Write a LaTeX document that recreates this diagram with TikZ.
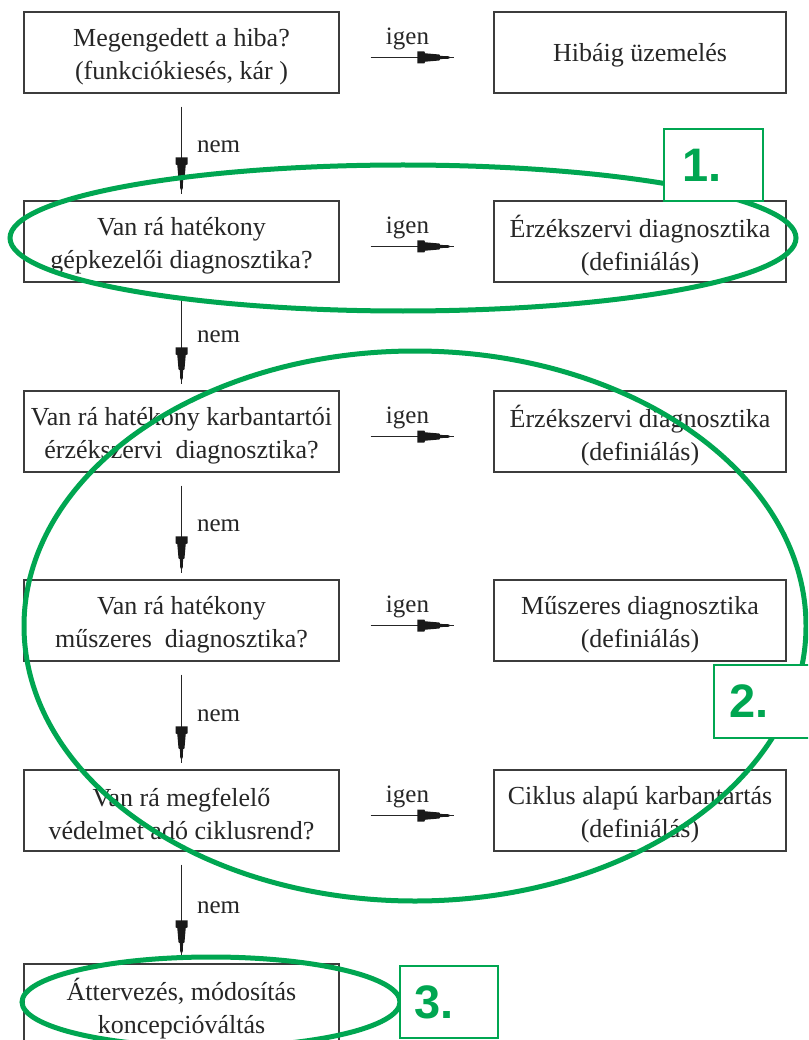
\documentclass[tikz,border=0pt]{standalone}
\usepackage{fontspec}
\setmainfont{Liberation Serif}
\newfontfamily\numfont{Liberation Sans}
\usetikzlibrary{decorations.markings}
\definecolor{ovalgreen}{RGB}{0,166,81}
\definecolor{boxgray}{RGB}{60,60,60}
\tikzset{
  qbox/.style={draw=boxgray, line width=1.3pt, minimum width=315pt, minimum height=81pt,
    inner sep=0pt},
  abox/.style={qbox, minimum width=292pt},
  boxtext/.style={align=center, inner sep=0pt, font=\fontsize{26}{33}\selectfont, text=black!85},
  flow/.style={line width=1pt, draw=black!85, postaction={decorate},
    decoration={markings, mark=at position 0.999 with {
      \fill[black!90] (-37pt,6pt) -- (-30pt,6pt) -- (-29pt,4.2pt) -- (-15pt,3pt)
        -- (-14pt,1.6pt) -- (-5pt,1.2pt) -- (-5pt,-1.2pt) -- (-14pt,-1.6pt)
        -- (-15pt,-3pt) -- (-29pt,-4.2pt) -- (-30pt,-6pt) -- (-37pt,-6pt) -- cycle;}}},
  lbl/.style={font=\fontsize{25}{30}\selectfont, text=black!85, inner sep=0pt},
  oval/.style={draw=ovalgreen, line width=5pt},
  numbox/.style={draw=ovalgreen, line width=1.5pt, fill=white, inner sep=0pt},
  numtext/.style={font=\numfont\bfseries\fontsize{47}{47}\selectfont, text=ovalgreen,
    anchor=west, inner sep=0pt},
}
\begin{document}
\begin{tikzpicture}[x=1pt, y=-1pt]
\clip (0,0) rectangle (808,1040);
\fill[white] (0,0) rectangle (808,1040);

% question boxes
\node[qbox] (L1) at (181.5,52.5) {};
\node[qbox] (L2) at (181.5,241.5) {};
\node[qbox] (L3) at (181.5,431.5) {};
\node[qbox] (L4) at (181.5,620.5) {};
\node[qbox] (L5) at (181.5,810.5) {};
\node[qbox] (L6) at (181.5,1004.5) {};
\node[boxtext] (L1t) at ([yshift=-4pt]L1.center) {Megengedett a hiba?\\(funkciókiesés, kár )};
\node[boxtext] (L2t) at ([yshift=-4pt]L2.center) {Van rá hatékony\\gépkezelői diagnosztika?};
\node[boxtext] (L3t) at ([yshift=-4pt]L3.center) {Van rá hatékony karbantartói\\érzékszervi\ \ diagnosztika?};
\node[boxtext] (L4t) at ([yshift=-4pt]L4.center) {Van rá hatékony\\műszeres\ \ diagnosztika?};
\node[boxtext] (L5t) at ([yshift=-4pt]L5.center) {Van rá megfelelő\\védelmet adó ciklusrend?};
\node[boxtext] (L6t) at ([yshift=-4pt]L6.center) {Áttervezés, módosítás\\koncepcióváltás};

% answer boxes
\node[abox] (R1) at (640,52.5) {};
\node[abox] (R2) at (640,241.5) {};
\node[abox] (R3) at (640,431.5) {};
\node[abox] (R4) at (640,620.5) {};
\node[abox] (R5) at (640,810.5) {};
\node[boxtext] (R1t) at ([yshift=-3pt]R1.center) {Hibáig üzemelés};
\node[boxtext] (R2t) at ([yshift=-4pt]R2.center) {Érzékszervi diagnosztika\\(definiálás)};
\node[boxtext] (R3t) at ([yshift=-4pt]R3.center) {Érzékszervi diagnosztika\\(definiálás)};
\node[boxtext] (R4t) at ([yshift=-4pt]R4.center) {Műszeres diagnosztika\\(definiálás)};
\node[boxtext] (R5t) at ([yshift=-4pt]R5.center) {Ciklus alapú karbantartás\\(definiálás)};

% vertical "nem" arrows
\foreach \a/\b in {L1/L2, L2/L3, L3/L4, L4/L5, L5/L6}{
  \draw[flow] ([yshift=-13pt]\a.south) --
    node[lbl, midway, anchor=base west, xshift=15pt, yshift=-2pt] {nem}
    ([yshift=6pt]\b.north);
}
% horizontal "igen" arrows
\foreach \a/\b in {L1/R1, L2/R2, L3/R3, L4/R4, L5/R5}{
  \draw[flow] ([xshift=31pt, yshift=-5pt]\a.east) --
    node[lbl, midway, anchor=base, xshift=-5pt, yshift=13pt] {igen}
    ([xshift=-39pt, yshift=-5pt]\b.west);
}

% green ovals
\draw[oval] (403,238) ellipse [x radius=393pt, y radius=73pt];
\draw[oval] (415,626) ellipse [x radius=391pt, y radius=275pt];
\draw[oval] (211,1002) ellipse [x radius=189pt, y radius=45pt];

% number boxes
\node[numbox, minimum width=99pt, minimum height=72pt] (N1) at (713.5,165) {};
\node[numtext] (T1) at ([xshift=19pt]N1.west) {1.};
\node[numbox, minimum width=98pt, minimum height=73pt] (N2) at (763,701.5) {};
\node[numtext] (T2) at ([xshift=16pt]N2.west) {2.};
\node[numbox, minimum width=98pt, minimum height=72pt] (N3) at (449,1002) {};
\node[numtext] (T3) at ([xshift=15pt]N3.west) {3.};
\end{tikzpicture}
\end{document}
